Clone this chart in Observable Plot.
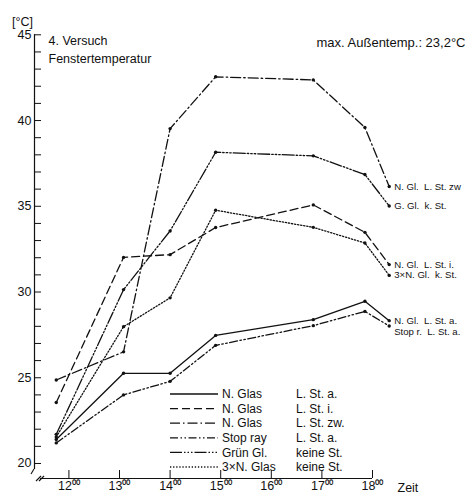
<!DOCTYPE html>
<html><head><meta charset="utf-8">
<script src="https://cdn.jsdelivr.net/npm/d3@7"></script>
<script src="https://cdn.jsdelivr.net/npm/@observablehq/plot@0.6"></script>
<style>body{margin:0;background:#fff} svg{display:block}</style>
</head><body><div id="chart"></div>
<script>
// time of measurement (decimal hours)
const times = [11.75, 13.08, 14.0, 14.9, 16.83, 17.85, 18.33];
const seriesKeys = ["nGlasA", "nGlasI", "nGlasZw", "stopRay", "gruenGl", "dreifach"];
const legendGlass = ["N. Glas", "N. Glas", "N. Glas", "Stop ray", "Grün Gl.", "3×N. Glas"];
const legendCond = ["L. St. a.", "L. St. i.", "L. St. zw.", "L. St. a.", "keine St.", "keine St."];
const endLabels = ["N. Gl.\u00a0 L. St. a.", "N. Gl.\u00a0 L. St. i.", "N. Gl.\u00a0 L. St. zw", "Stop r.\u00a0 L. St. a.", "G. Gl.\u00a0 k. St.", "3×N. Gl.\u00a0 k. St."];
const nGlasA   = [21.4, 25.26, 25.26, 27.47, 28.39, 29.46, 28.33];
const nGlasI   = [23.56, 32.02, 32.18, 33.76, 35.08, 33.48, 31.6];
const nGlasZw  = [24.87, 26.51, 39.53, 42.55, 42.37, 39.59, 36.15];
const stopRay  = [21.2, 24.0, 24.79, 26.89, 28.04, 28.87, 28.02];
const gruenGl  = [21.7, 30.14, 33.56, 38.15, 37.94, 36.85, 35.02];
const dreifach = [21.55, 27.98, 29.66, 34.77, 33.77, 32.86, 30.97];
const yTicks = d3.range(20, 46);
const xTicks = [12, 13, 14, 15, 16, 17, 18];
const titleLines = ["4. Versuch", "Fenstertemperatur"];
const maxNote = "max. Außentemp.: 23,2°C";
const yUnit = "[°C]";
const xName = "Zeit";

// styles
const dashes = [null, "8,4", "10,3,1.5,3", "8,2.5,1.5,2.5,1.5,2.5", "12,2,1.5,2,1.5,2,1.5,2", "1.3,1.8"];
const FONT = "'Liberation Sans', Arial, sans-serif";

const values = [nGlasA, nGlasI, nGlasZw, stopRay, gruenGl, dreifach];
const rows = [];
seriesKeys.forEach((k, i) => times.forEach((t, j) => rows.push({s: i, t, v: values[i][j]})));
const lastRows = rows.filter(r => r.t === times[times.length - 1]).map(r => ({...r, label: endLabels[r.s]}));

const lineMarks = seriesKeys.map((k, i) => Plot.line(rows.filter(r => r.s === i), {
  x: "t", y: "v", stroke: "#111", strokeWidth: 1.3,
  strokeDasharray: dashes[i] ?? undefined
}));

const chart = Plot.plot({
  width: 465, height: 501,
  marginLeft: 34, marginRight: 93, marginTop: 34.3, marginBottom: 23,
  style: {fontFamily: FONT, fontSize: "12.5px", color: "#111", background: "#fff"},
  x: {domain: [11.32, 18]},
  y: {domain: [19.125, 45]},
  marks: [
    Plot.ruleX([11.32], {y1: 19.65, y2: 45, stroke: "#111", strokeWidth: 1.2}),
    Plot.ruleY([19.125], {x1: 11.44, x2: 18, stroke: "#111", strokeWidth: 1.2}),
    Plot.axisY({ticks: yTicks, tickSize: -7, tickPadding: 10, tickFormat: d => d % 5 === 0 ? String(d) : "", label: null, fontSize: 12.5}),
    Plot.axisX({ticks: xTicks, tickSize: -8, tickPadding: 11, tickFormat: d => d + "⁰⁰", label: null, fontSize: 12.5}),
    ...lineMarks,
    Plot.dot(rows, {x: "t", y: "v", r: 1.7, fill: "#111"}),
    Plot.text(lastRows.filter(r => r.s !== 3), {x: "t", y: "v", text: "label", dx: 5, textAnchor: "start", fontSize: 9.6}),
    Plot.text(lastRows.filter(r => r.s === 3), {x: "t", y: "v", text: "label", dx: 5, dy: 6, textAnchor: "start", fontSize: 9.6}),
    Plot.text([yUnit], {frameAnchor: "top-left", dx: -12, dy: -18, textAnchor: "middle", fontSize: 12.5}),
    Plot.text([titleLines[0]], {frameAnchor: "top-left", dx: 14, dy: 1, textAnchor: "start", fontSize: 12.5}),
    Plot.text([titleLines[1]], {frameAnchor: "top-left", dx: 14, dy: 19, textAnchor: "start", fontSize: 12.5}),
    Plot.text([maxNote], {frameAnchor: "top-left", dx: 282, dy: 3, textAnchor: "start", fontSize: 13}),
    Plot.text([xName], {frameAnchor: "bottom-right", dx: 25, dy: 13, textAnchor: "start", fontSize: 12.5})
  ]
});
document.getElementById("chart").append(chart);

// legend and axis break (decoration)
const svg = d3.select(chart);
const lg = svg.append("g").attr("font-family", FONT).attr("font-size", 12)
  .attr("fill", "#111").attr("text-anchor", "start");
legendGlass.forEach((g, i) => {
  const y = 394 + i * 14.6;
  lg.append("line").attr("x1", 170).attr("x2", 218).attr("y1", y).attr("y2", y)
    .attr("stroke", "#111").attr("stroke-width", 1.3).attr("stroke-dasharray", dashes[i]);
  lg.append("text").attr("x", 222).attr("y", y).attr("dy", "0.35em").attr("text-anchor", "start").text(g);
  lg.append("text").attr("x", 296).attr("y", y).attr("dy", "0.35em").attr("text-anchor", "start").text(legendCond[i]);
});
const br = svg.append("g").attr("stroke", "#111").attr("stroke-width", 1.1).attr("fill", "none");
br.append("path").attr("d", "M34,469 L31,474");
br.append("path").attr("d", "M36,481 L41,476 M39,481 L44,476");
</script>
</body></html>
